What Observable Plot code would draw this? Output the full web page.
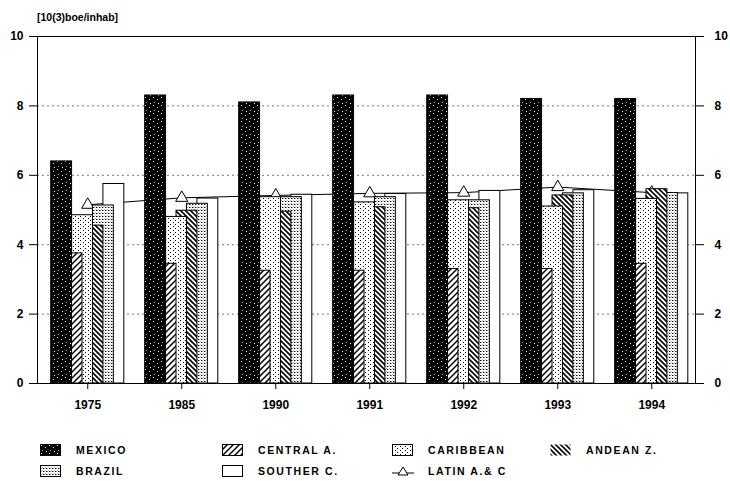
<!DOCTYPE html>
<html><head><meta charset="utf-8">
<script src="https://cdn.jsdelivr.net/npm/d3@7"></script>
<script src="https://cdn.jsdelivr.net/npm/@observablehq/plot@0.6"></script>
<style>
body{margin:0;background:#fff;}
#wrap{position:relative;width:730px;height:481px;font-family:"Liberation Sans",Arial,sans-serif;font-weight:bold;color:#000;}
#title{position:absolute;left:37px;top:11px;font-size:10.5px;}
.leg{position:absolute;display:flex;align-items:center;font-size:10.5px;letter-spacing:1.6px;height:12px;}
.leg svg{margin-right:14px;flex:none;}
</style></head><body>
<div id="wrap"><div id="chart"></div><div id="title">[10(3)boe/inhab]</div><div id="legend"></div></div>
<script>
// ---- data ----
const years = ["1975","1985","1990","1991","1992","1993","1994"];
const series = ["MEXICO","CENTRAL A.","CARIBBEAN","ANDEAN Z.","BRAZIL","SOUTHER C."];
const mexico    = [6.4, 8.3, 8.1, 8.3, 8.3, 8.2, 8.2];
const centralA  = [3.75, 3.45, 3.25, 3.25, 3.3, 3.3, 3.45];
const caribbean = [4.85, 4.8, 5.37, 5.22, 5.28, 5.1, 5.32];
const andean    = [4.55, 4.98, 4.95, 5.08, 5.05, 5.42, 5.6];
const brazil    = [5.13, 5.18, 5.37, 5.37, 5.28, 5.48, 5.49];
const southerC  = [5.75, 5.33, 5.44, 5.46, 5.55, 5.57, 5.48];
const latin     = [5.15, 5.35, 5.42, 5.48, 5.5, 5.66, 5.5];
const latinLabel = "LATIN A.& C";
const yTicks = [0, 2, 4, 6, 8, 10];
const gridTicks = [2, 4, 6, 8];

const seriesValues = [mexico, centralA, caribbean, andean, brazil, southerC];
const fills = ["url(#p-mex)", "url(#p-cen)", "url(#p-car)", "url(#p-and)", "url(#p-bra)", "#fff"];

// group g occupies slots 9g .. 9g+7 ; series i spans slots i .. i+2 (overlapping)
const slot = 9;
const barsFor = i => years.map((y, g) => ({year: y, series: series[i], x1: g * slot + i, x2: g * slot + i + 2, value: seriesValues[i][g]}));
const centers = years.map((y, g) => g * slot + 3.5);
const latinData = years.map((y, g) => ({year: y, x: centers[g], v: latin[g]}));

// draw back to front: SOUTHER C. first ... MEXICO last
const barMarks = [5, 4, 3, 2, 1, 0].map(i =>
  Plot.rectY(barsFor(i), {x1: "x1", x2: "x2", y1: 0, y2: "value", fill: fills[i], stroke: "#000", strokeWidth: 1})
);

const chart = Plot.plot({
  width: 730, height: 425,
  marginLeft: 37, marginRight: 35, marginTop: 36, marginBottom: 42,
  x: {domain: [-1.31, 61.69], axis: null},
  y: {domain: [0, 10], axis: null},
  style: {fontFamily: "Liberation Sans, Arial, sans-serif", fontWeight: "bold", fontSize: "12px", color: "#000", background: "#fff"},
  marks: [
    Plot.ruleY(gridTicks, {stroke: "#555", strokeWidth: 0.8, strokeDasharray: "2,3"}),
    Plot.line(latinData, {x: "x", y: "v", stroke: "#000", strokeWidth: 1}),
    Plot.dot(latinData, {x: "x", y: "v", symbol: "triangle", r: 4.5, fill: "#fff", stroke: "#000", strokeWidth: 1}),
    ...barMarks,
    Plot.axisY(yTicks, {anchor: "left", tickSize: 8, tickPadding: 6}),
    Plot.axisY(yTicks, {anchor: "right", tickSize: 8, tickPadding: 11}),
    Plot.axisX(centers, {anchor: "bottom", tickSize: 6, tickPadding: 11, tickFormat: (d, i) => years[i]}),
    Plot.frame({stroke: "#000", strokeWidth: 1})
  ]
});
document.getElementById("chart").appendChild(chart);

// ---- patterns ----
const svgRoot = d3.select(chart.tagName.toLowerCase() === "svg" ? chart : chart.querySelector("svg"));
const defs = svgRoot.insert("defs", ":first-child");
function pat(id, w, h, build) {
  const p = defs.append("pattern").attr("id", id).attr("width", w).attr("height", h).attr("patternUnits", "userSpaceOnUse");
  build(p);
}
pat("p-mex", 8, 8, p => {
  p.append("rect").attr("width", 8).attr("height", 8).attr("fill", "#000");
  [[1,1,"#fff"],[5,3,"#ddd"],[2,6,"#999"],[6,7,"#fff"]].forEach(([x,y,c]) => p.append("rect").attr("x", x).attr("y", y).attr("width", 1).attr("height", 1).attr("fill", c));
});
pat("p-cen", 6, 6, p => {
  p.append("rect").attr("width", 6).attr("height", 6).attr("fill", "#fff");
  p.append("path").attr("d", "M-1,7L7,-1M-1,1L1,-1M5,7L7,5").attr("stroke", "#000").attr("stroke-width", 1.5);
});
pat("p-and", 5, 5, p => {
  p.append("rect").attr("width", 5).attr("height", 5).attr("fill", "#fff");
  p.append("path").attr("d", "M-1,-1L6,6M4,-1L6,1M-1,4L1,6").attr("stroke", "#000").attr("stroke-width", 1.6);
});
pat("p-car", 5, 4, p => {
  p.append("rect").attr("width", 5).attr("height", 4).attr("fill", "#fff");
  [[0,0],[3,2]].forEach(([x,y]) => p.append("rect").attr("x", x).attr("y", y).attr("width", 1).attr("height", 1).attr("fill", "#000"));
});
pat("p-bra", 3, 3, p => {
  p.append("rect").attr("width", 3).attr("height", 3).attr("fill", "#fff");
  [[0,0,"#000"],[1,0,"#999"],[2,2,"#bbb"]].forEach(([x,y,c]) => p.append("rect").attr("x", x).attr("y", y).attr("width", 1).attr("height", 1).attr("fill", c));
});

// ---- legend ----
const legend = d3.select("#legend");
const legendItems = [
  {label: series[0], fill: fills[0], left: 40, top: 444},
  {label: series[1], fill: fills[1], left: 222, top: 444},
  {label: series[2], fill: fills[2], left: 392, top: 444},
  {label: series[3], fill: fills[3], left: 550, top: 444, noStroke: true},
  {label: series[4], fill: fills[4], left: 40, top: 465},
  {label: series[5], fill: fills[5], left: 222, top: 465},
  {label: latinLabel, line: true, left: 392, top: 465}
];
legendItems.forEach(it => {
  const div = legend.append("div").attr("class", "leg").style("left", it.left + "px").style("top", it.top + "px");
  const s = div.append("svg").attr("width", 22).attr("height", 12);
  if (it.line) {
    s.append("line").attr("x1", 0).attr("x2", 22).attr("y1", 8).attr("y2", 8).attr("stroke", "#000");
    s.append("path").attr("d", "M11,2L16,10L6,10Z").attr("fill", "#fff").attr("stroke", "#000");
  } else {
    s.append("rect").attr("x", 0.5).attr("y", 0.5).attr("width", 20).attr("height", 11).attr("fill", it.fill).attr("stroke", it.noStroke ? "none" : "#000");
  }
  div.append("span").text(it.label);
});
</script>
</body></html>
